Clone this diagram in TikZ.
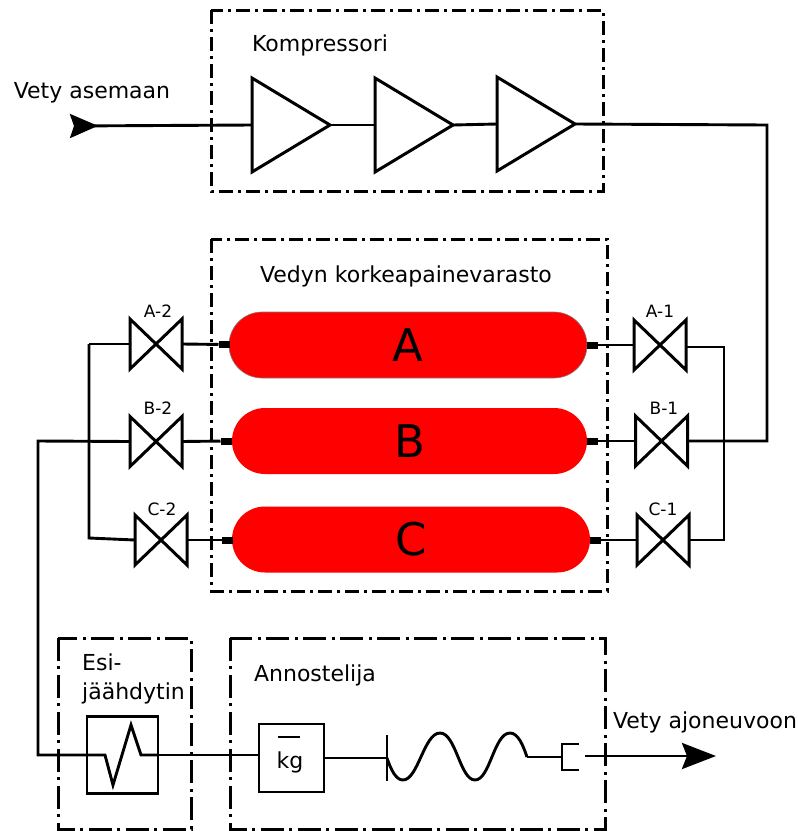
\documentclass[tikz,border=0pt]{standalone}
\usepackage{fontspec}
\setmainfont{DejaVu Sans}
\usetikzlibrary{arrows.meta,shapes}
\tikzstyle{unit}=[draw,line width=3pt,dash pattern=on 14pt off 5pt on 3pt off 5pt]
\tikzstyle{unitwide}=[draw,line width=3pt,dash pattern=on 23pt off 5pt on 3pt off 6pt]
\tikzstyle{caption}=[inner sep=0pt,anchor=base,font=\fontsize{22}{29}\selectfont]
\tikzstyle{vcaption}=[inner sep=0pt,anchor=base,font=\fontsize{17}{20}\selectfont]
\tikzstyle{comp}=[rectangle,minimum width=78pt,minimum height=94pt,inner sep=0pt,outer sep=0pt]
\tikzstyle{valve}=[rectangle,minimum width=52pt,minimum height=50pt,inner sep=0pt,outer sep=0pt]
\tikzstyle{tank}=[rectangle,fill=red,rounded corners=33pt,minimum height=66pt,inner sep=0pt,outer sep=0pt,font=\fontsize{45}{50}\selectfont]
\tikzstyle{stub}=[rectangle,fill=black,minimum width=11pt,minimum height=7pt,inner sep=0pt,outer sep=0pt]
\tikzstyle{box}=[rectangle,draw,line width=2.8pt,inner sep=0pt,outer sep=0pt]
\tikzstyle{edge}=[draw,line width=2.9pt,-]
\tikzstyle{symbol}=[draw,line width=3pt,line join=miter]
\begin{document}
\begin{tikzpicture}[x=1pt,y=-1pt]
    \useasboundingbox (0,0) rectangle (798,831);
    % Dash-dot frames of the units
    \path[unit] (211,10) rectangle (603,191);
    \path[unit] (211,239) rectangle (607,591);
    \path[unitwide] (58,638) rectangle (191,829);
    \path[unitwide] (230,638) rectangle (605,829);
    % Texts
    \node[caption] (kompressori) at (320,51) {Kompressori};
    \node[caption] (asemaan) at (92,98) {Vety asemaan};
    \node[caption] (varasto) at (406,282) {Vedyn korkeapainevarasto};
    \node[caption,anchor=base west] (esi) at (82,670) {Esi-};
    \node[caption,anchor=base west] (jaahdytin) at (82,699) {jäähdytin};
    \node[caption] (annostelija) at (315,681) {Annostelija};
    \node[caption] (ajoneuvoon) at (705,728) {Vety ajoneuvoon};
    % First we draw the compressor stages
    \foreach \pos/\name in {{(291,125)/amp1}, {(414,125)/amp2}, {(536,124)/amp3}}
        \node[comp] (\name) at \pos {};
    \foreach \name in {amp1,amp2,amp3}
        \path[symbol] (\name.north west) -- (\name.east) -- (\name.south west) -- cycle;
    % Then the tanks with their stubs
    \node[tank,draw=gray,line width=0.6pt,minimum width=358pt] (tankA) at (408,345) {A};
    \node[tank,minimum width=355pt] (tankB) at (409.5,441) {B};
    \node[tank,minimum width=358pt] (tankC) at (411,539.5) {C};
    \foreach \pos/\name in {{(224,344.5)/stubA2}, {(226,441)/stubB2}, {(227,540)/stubC2}, {(592.5,345)/stubA1}, {(592,441)/stubB1}, {(595,540)/stubC1}}
        \node[stub] (\name) at \pos {};
    % Valves and their labels
    \foreach \pos/\name/\lab/\labpos in {{(156,344)/A2/A-2/(158,317)}, {(156,441.5)/B2/B-2/(158,414)}, {(161,540)/C2/C-2/(162,515)}, {(660,345)/A1/A-1/(660,317)}, {(661.5,441)/B1/B-1/(664,414)}, {(663,540)/C1/C-1/(663,515)}}
    {
        \node[valve] (\name) at \pos {};
        \node[vcaption] (label\name) at \labpos {\lab};
        \path[symbol] (\name.north west) -- (\name.south east) -- (\name.north east) -- (\name.south west) -- cycle;
    }
    % Bends of the piping
    \coordinate (inlet) at (70,126);
    \coordinate (feedA) at (767,125);
    \coordinate (feedB) at (767,441);
    \coordinate (busLtop) at (89,344);
    \coordinate (busLbot) at (89,538);
    \coordinate (busRtop) at (724,347);
    \coordinate (busRbot) at (724,540);
    \coordinate (outA) at (38,441);
    \coordinate (outB) at (38,755);
    % Heat exchanger and meter
    \node[box,minimum width=71pt,minimum height=77pt] (cooler) at (122.5,755) {};
    \node[box,minimum width=65pt,minimum height=68pt] (meter) at (291.5,758) {};
    \node[inner sep=0pt,anchor=base,font=\fontsize{22}{26}\selectfont] (kg) at (290,768) {kg};
    \coordinate (barL) at (278,737);
    \coordinate (barR) at (300,737);
    \path[edge] (barL) -- (barR);
    % Hose and nozzle
    \coordinate (hoseA) at (387,758);
    \coordinate (hoseTop) at (387,735);
    \coordinate (hoseBot) at (387,781);
    \coordinate (hoseB) at (527,757);
    \coordinate (nozzle) at (562,757);
    \coordinate (nozzleT) at (579,744);
    \coordinate (nozzleC) at (562,744);
    \coordinate (nozzleD) at (562,770);
    \coordinate (nozzleB) at (579,770);
    \coordinate (outlet) at (585,756);
    \coordinate (vehicle) at (716,756);
    % Connect everything with edges
    \path[edge,{Stealth[length=28pt,width=24pt,inset=4pt,reversed]}-] (inlet) -- (amp1.west);
    \foreach \source/\dest in {amp1.east/amp2.west, amp2.east/amp3.west, A2.east/stubA2, B2.east/stubB2, C2.east/stubC2, stubA1/A1.west, stubB1/B1.west, stubC1/C1.west, busLtop/A2.west, meter.east/hoseA, hoseB/nozzle}
        \path[edge] (\source) -- (\dest);
    \path[edge] (cooler.east) -- (cooler.east -| meter.west);
    \path[edge] (amp3.east) -- (feedA) -- (feedB) -- (B1.east);
    \path[edge] (A1.east |- busRtop) -- (busRtop) -- (busRbot) -- (C1.east);
    \path[edge] (busLtop) -- (busLbot) -- (C2.west);
    \path[edge] (B2.west) -- (outA) -- (outB) -- (cooler.west);
    \path[edge] (hoseTop) -- (hoseBot);
    \path[edge] (nozzleT) -- (nozzleC) -- (nozzleD) -- (nozzleB);
    \path[edge,-{Stealth[length=34pt,width=26pt,inset=5pt]}] (outlet) -- (vehicle);
    % Coil and zigzag
    \path[edge] (hoseA) .. controls (391,770) and (396,780) .. (403,780)
        .. controls (418,780) and (424,733) .. (440,733)
        .. controls (456,733) and (460,780) .. (475,780)
        .. controls (490,780) and (494,733) .. (510,733)
        .. controls (518,733) and (523,745) .. (527,757);
    \path[edge] (cooler.west) -- (105,755) -- (113,785) -- (131,725) -- (141,755) -- (cooler.east);
\end{tikzpicture}
\end{document}
